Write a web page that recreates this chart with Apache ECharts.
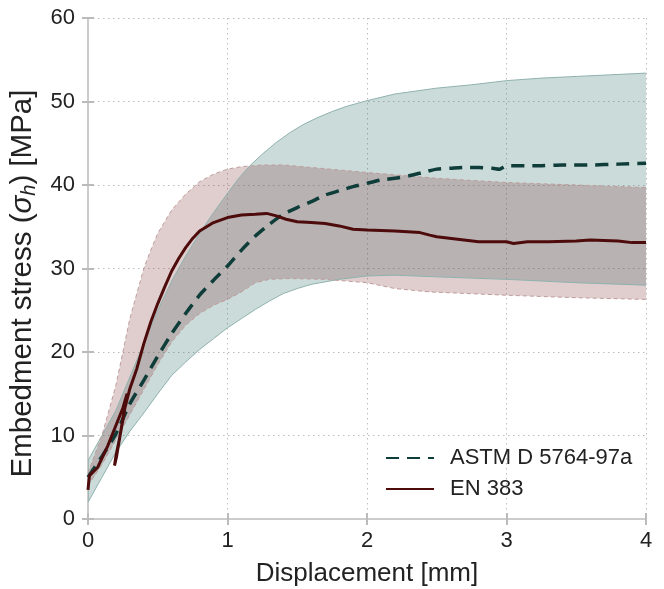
<!DOCTYPE html>
<html><head><meta charset="utf-8">
<script src="https://cdn.jsdelivr.net/npm/echarts@6/dist/echarts.min.js"></script>
<style>html,body{margin:0;padding:0;background:#fff}#c{width:664px;height:589px}</style>
</head><body><div id="c"></div>
<script>
// ---- data (displacement mm, stress MPa) ----
const astmMean = [[0,5.0],[0.1,7.5],[0.2,10.2],[0.3,13.8],[0.4,16.6],[0.5,19.5],[0.6,22.2],[0.7,24.6],[0.8,26.8],[0.9,28.6],[1.0,30.3],[1.1,32.2],[1.2,33.9],[1.3,35.3],[1.4,36.5],[1.5,37.3],[1.6,38.0],[1.7,38.8],[1.8,39.3],[1.9,39.8],[2.0,40.2],[2.1,40.6],[2.2,40.8],[2.3,41.1],[2.4,41.5],[2.5,41.9],[2.6,42.0],[2.7,42.1],[2.8,42.1],[2.9,42.0],[2.95,41.9],[3.0,42.3],[3.2,42.3],[3.4,42.4],[3.6,42.4],[3.8,42.5],[4.0,42.6]];
const astmUpper = [[0,7.0],[0.1,10.0],[0.2,13.0],[0.3,17.0],[0.4,21.0],[0.5,25.0],[0.6,28.5],[0.7,31.5],[0.8,34.2],[0.9,36.7],[1.0,39.0],[1.08,40.8],[1.16,42.3],[1.25,43.7],[1.35,45.1],[1.45,46.3],[1.55,47.3],[1.65,48.1],[1.75,48.8],[1.85,49.4],[2.0,50.1],[2.2,50.9],[2.5,51.6],[2.75,52.0],[3.0,52.5],[3.25,52.8],[3.5,53.0],[3.75,53.2],[4.0,53.4]];
const astmLower = [[0,2.0],[0.1,5.0],[0.2,8.0],[0.3,10.5],[0.4,12.7],[0.5,15.0],[0.6,17.2],[0.7,18.8],[0.8,20.3],[0.9,21.6],[1.0,22.9],[1.1,24.0],[1.2,25.1],[1.3,26.1],[1.4,27.0],[1.5,27.6],[1.6,28.1],[1.8,28.7],[2.0,29.1],[2.2,29.2],[2.5,29.0],[3.0,28.7],[3.5,28.3],[4.0,28.0]];
const enMean = [[0,3.5],[0.01,5.2],[0.07,6.2],[0.14,8.7],[0.2,11.2],[0.25,13.3],[0.28,15.0],[0.26,12.8],[0.23,10.0],[0.2,7.5],[0.19,6.4],[0.205,7.5],[0.23,10.0],[0.26,13.0],[0.3,15.6],[0.35,18.0],[0.4,21.0],[0.45,23.6],[0.5,25.8],[0.55,27.8],[0.6,29.7],[0.65,31.2],[0.7,32.5],[0.75,33.6],[0.8,34.5],[0.9,35.5],[1.0,36.1],[1.1,36.4],[1.2,36.5],[1.28,36.6],[1.35,36.3],[1.42,35.9],[1.5,35.6],[1.6,35.5],[1.7,35.4],[1.8,35.1],[1.9,34.7],[2.0,34.6],[2.2,34.5],[2.38,34.3],[2.45,34.0],[2.5,33.8],[2.65,33.5],[2.8,33.2],[3.0,33.2],[3.05,33.0],[3.15,33.2],[3.3,33.2],[3.5,33.3],[3.6,33.4],[3.8,33.3],[3.9,33.1],[4.0,33.1]];
const enUpper = [[0,5.5],[0.1,10.0],[0.2,16.0],[0.25,20.0],[0.3,24.0],[0.35,27.0],[0.4,30.0],[0.45,32.2],[0.5,34.2],[0.6,37.0],[0.7,38.9],[0.8,40.4],[0.9,41.3],[1.0,41.9],[1.1,42.2],[1.25,42.4],[1.4,42.4],[1.6,42.1],[1.8,41.8],[2.0,41.5],[2.5,40.8],[3.0,40.3],[3.5,40.0],[4.0,39.7]];
const enLower = [[0,4.0],[0.1,6.5],[0.2,9.5],[0.3,12.5],[0.4,15.5],[0.5,18.5],[0.6,21.2],[0.7,23.2],[0.8,24.6],[0.9,25.6],[1.0,26.3],[1.1,27.2],[1.2,28.3],[1.3,28.7],[1.45,28.8],[1.7,28.7],[2.0,28.3],[2.2,27.6],[2.45,27.2],[3.0,26.8],[3.5,26.5],[4.0,26.3]];
const xTicks = [0,1,2,3,4];
const yTicks = [0,10,20,30,40,50,60];
const seriesNames = ['ASTM D 5764-97a','EN 383'];

const FONT = 'Liberation Sans, Arial, sans-serif';
const TEAL_FILL = 'rgba(47,111,107,0.25)';
const PINK_FILL = 'rgba(125,50,50,0.24)';

function band(upper, lower, fill, z) {
  return {
    type: 'custom', silent: true, z: z, clip: true,
    data: [[upper[0][0], upper[0][1]]],
    renderItem: function (params, api) {
      const pts = upper.map(p => api.coord(p)).concat(lower.slice().reverse().map(p => api.coord(p)));
      return { type: 'polygon', shape: { points: pts }, style: { fill: fill, stroke: null } };
    }
  };
}
function edge(data, color, type, z) {
  return { type: 'line', data: data, symbol: 'none', silent: true, z: z,
    lineStyle: { color: color, width: 1, type: type } };
}

const axisCommon = {
  min: 0, splitLine: { show: true, lineStyle: { color: '#bdbdbd', width: 1, type: [1.5, 3.5] } },
  axisLine: { show: true, lineStyle: { color: '#cccccc', width: 2 } },
  axisTick: { show: true, inside: true, length: 6, lineStyle: { color: '#bbbbbb', width: 2 } },
};

const chart = echarts.init(document.getElementById('c'), null, { renderer: 'canvas' });
chart.setOption({
  animation: false,
  backgroundColor: '#fff',
  grid: { left: 88, right: 18, top: 18, bottom: 70, outerBoundsMode: 'none', containLabel: false },
  legend: {
    data: seriesNames, orient: 'vertical', left: 380, top: 442,
    itemWidth: 48, itemHeight: 14, itemGap: 9,
    itemStyle: { opacity: 0 },
    textStyle: { fontFamily: FONT, fontSize: 22, color: '#222', padding: [0, 0, 0, 11] }
  },
  xAxis: [
    Object.assign({}, axisCommon, { type: 'value', max: 4, interval: 1, position: 'bottom',
      axisLabel: { fontFamily: FONT, fontSize: 22, color: '#222', margin: 11 },
      name: 'Displacement [mm]', nameLocation: 'middle', nameGap: 42,
      nameTextStyle: { fontFamily: FONT, fontSize: 26, color: '#222' } }),
    Object.assign({}, axisCommon, { type: 'value', max: 4, interval: 1, position: 'top',
      axisLabel: { show: false }, splitLine: { show: false } })
  ],
  yAxis: [
    Object.assign({}, axisCommon, { type: 'value', max: 60, interval: 10, position: 'left',
      axisLabel: { fontFamily: FONT, fontSize: 22, color: '#222', margin: 13 },
      name: 'Embedment stress ({s|σ}{h|h}) [MPa]', nameLocation: 'middle', nameGap: 42,
      nameTextStyle: { fontFamily: FONT, fontSize: 29.5, color: '#222', lineHeight: 34, padding: [0, 30, 0, 0],
        rich: { s: { fontFamily: FONT, fontSize: 29.5, fontStyle: 'italic', color: '#222', lineHeight: 34 },
                h: { fontFamily: FONT, fontSize: 20, fontStyle: 'italic', color: '#222', verticalAlign: 'bottom', lineHeight: 34 } } } }),
    Object.assign({}, axisCommon, { type: 'value', max: 60, interval: 10, position: 'right',
      axisLabel: { show: false }, splitLine: { show: false } })
  ],
  series: [
    band(astmUpper, astmLower, TEAL_FILL, 1),
    band(enUpper, enLower, PINK_FILL, 2),
    edge(astmUpper, '#8fb2ae', 'solid', 3),
    edge(astmLower, '#8fb2ae', 'solid', 3),
    edge(enUpper, '#bf9c9c', [4, 3], 3),
    edge(enLower, '#bf9c9c', [4, 3], 3),
    { name: seriesNames[0], type: 'line', data: astmMean, symbol: 'none', z: 5, smooth: 0.2,
      lineStyle: { color: '#0f3d39', width: 3.5, type: [13, 8] }, itemStyle: { color: '#0f3d39' } },
    { name: seriesNames[1], type: 'line', data: enMean, symbol: 'none', z: 6,
      lineStyle: { color: '#4e0b0b', width: 3 }, itemStyle: { color: '#4e0b0b' } }
  ]
});
</script></body></html>
